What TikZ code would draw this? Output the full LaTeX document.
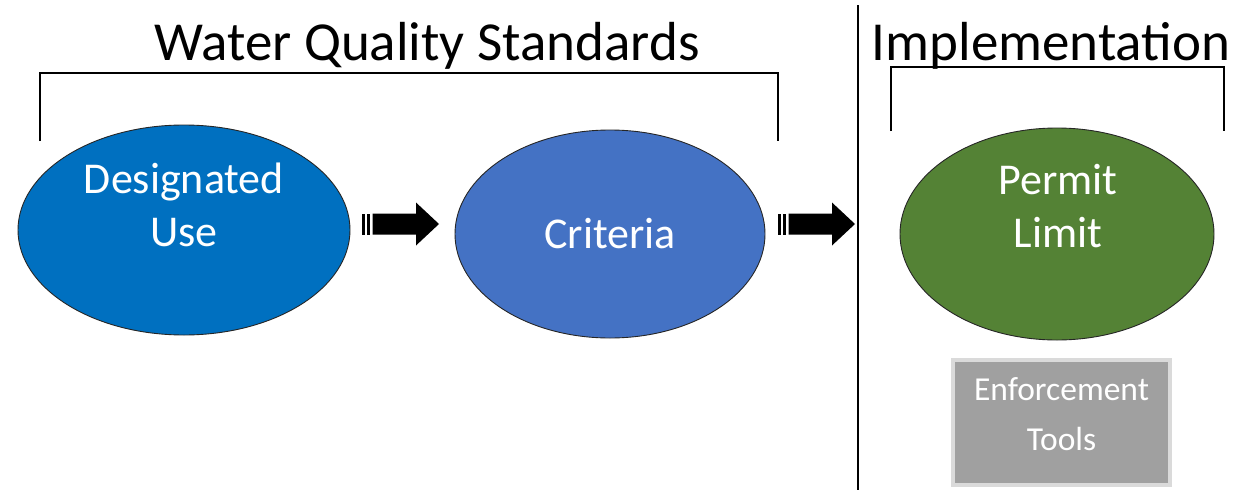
\documentclass[tikz,border=0pt]{standalone}
\usepackage{fontspec}
\setmainfont{Carlito}
\usetikzlibrary{shapes.geometric}
\definecolor{duse}{HTML}{0070C0}
\definecolor{crit}{HTML}{4472C4}
\definecolor{perm}{HTML}{548235}
\definecolor{enfg}{HTML}{A0A0A0}
\definecolor{enfb}{HTML}{DADADA}
\tikzset{
  x=1pt, y=-1pt,
  oval/.style={ellipse, draw=black!85, line width=0.9pt, inner sep=0pt},
  ovaltext/.style={text=white, align=center, inner sep=0pt, font=\fontsize{44}{53}\selectfont},
  title/.style={font=\fontsize{55}{60}\selectfont, text=black, inner sep=0pt},
  bracket/.style={line width=2.2pt, line cap=butt},
  blockarrow/.style={fill=black},
}
\begin{document}
\begin{tikzpicture}
\useasboundingbox[fill=white] (0,0) rectangle (1248,490);

\node[title] (t1) at (427,46) {Water Quality Standards};
\node[title] (t2) at (1051,46) {Implementation};

\draw[bracket] (40,141) -- (40,73) -- (778,73) -- (778,141);
\draw[bracket] (891,131) -- (891,67) -- (1224,67) -- (1224,131);
\draw[line width=2.2pt] (858,5) -- (858,490);

\node[oval, fill=duse, minimum width=332pt, minimum height=210pt] (du) at (184,230) {};
\node[oval, fill=crit, minimum width=310pt, minimum height=208pt] (cr) at (610,234) {};
\node[oval, fill=perm, minimum width=314pt, minimum height=212pt] (pl) at (1057,234) {};
\node[ovaltext] (dut) at (184,205) {Designated\\Use};
\node[ovaltext] (crt) at (610,234) {Criteria};
\node[ovaltext] (plt) at (1058,206) {Permit\\Limit};

\node[draw=enfb, line width=4pt, fill=enfg, minimum width=217pt, minimum height=125pt, inner sep=0pt] (et) at (1061.5,422.5) {};
\node[text=white, align=center, inner sep=0pt, font=\fontsize{33.5}{50}\selectfont] (ett) at (1061.5,414) {Enforcement\\Tools};

% block arrows
\coordinate (a1) at (362,224);
\coordinate (a2) at (778,224);
\foreach \c in {a1,a2} {
  \fill[blockarrow] ([xshift=0pt,yshift=-10.5pt]\c) rectangle ([xshift=2.5pt,yshift=10.5pt]\c);
  \fill[blockarrow] ([xshift=5pt,yshift=-10.5pt]\c) rectangle ([xshift=7.5pt,yshift=10.5pt]\c);
  \fill[blockarrow] ([xshift=10.5pt,yshift=-10.5pt]\c) -- ([xshift=54pt,yshift=-10.5pt]\c)
     -- ([xshift=54pt,yshift=-21.5pt]\c) -- ([xshift=77pt,yshift=0pt]\c)
     -- ([xshift=54pt,yshift=21.5pt]\c) -- ([xshift=54pt,yshift=10.5pt]\c)
     -- ([xshift=10.5pt,yshift=10.5pt]\c) -- cycle;
}
\end{tikzpicture}
\end{document}
